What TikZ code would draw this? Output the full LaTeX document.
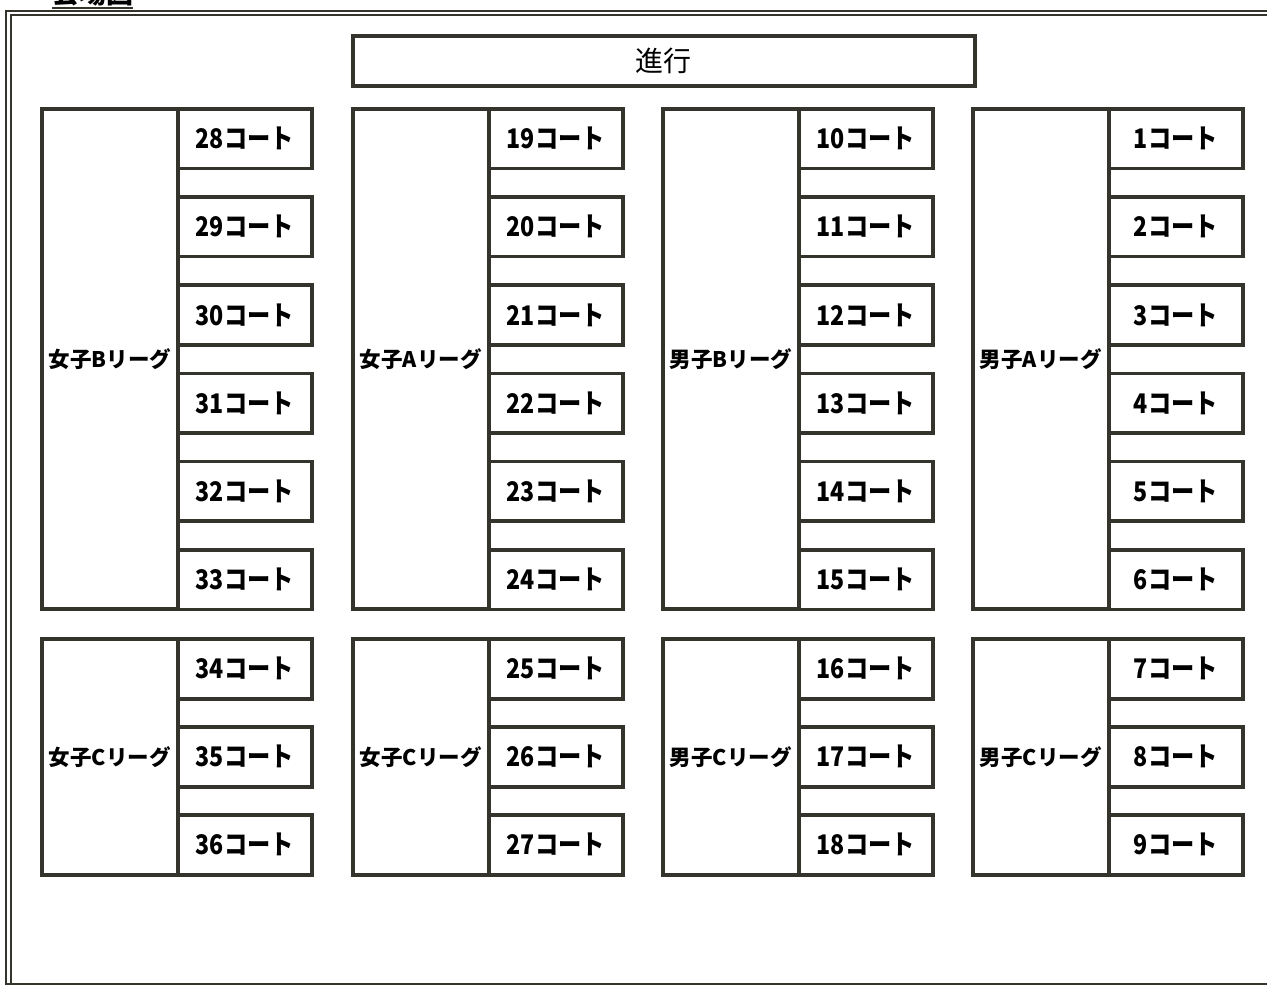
\documentclass[tikz,border=0pt]{standalone}
\usepackage{fontspec}
\setmainfont{Noto Sans CJK JP}
\newfontfamily\jpcourt[FakeStretch=0.86]{Noto Sans CJK JP}
\definecolor{ink}{RGB}{52,52,44}
\begin{document}
\begin{tikzpicture}[x=1pt,y=-1pt,
  box/.style={draw=ink, line width=3.6pt, rectangle, inner sep=0pt, anchor=north west, fill=white, text=black},
  court/.style={box, minimum width=134pt, minimum height=59.5pt, font=\jpcourt\bfseries\fontsize{27}{27}\selectfont},
  league/.style={box, minimum width=136pt, font=\bfseries\fontsize{21.5}{21.5}\selectfont},
  frameline/.style={draw=ink, line width=2pt}]
\useasboundingbox (0,0) rectangle (1267,985);
\clip (0,0) rectangle (1267,985);
\fill[white] (0,0) rectangle (1267,985);
% outer double frame
\draw[frameline] (6,10.5) rectangle (1300,984);
\draw[frameline] (10.5,14.5) rectangle (1295,1000);
% title
\node[anchor=base west, inner sep=0pt, font=\bfseries\fontsize{27}{27}\selectfont] (title) at (52,4) {会場図};
\draw[frameline] ([yshift=-1pt]title.south west) -- ([yshift=-1pt]title.south east);
% progress box
\node[box, minimum width=622pt, minimum height=50pt, font=\fontsize{28}{28}\selectfont] (prog) at (351,34) {進行};
% groups
\foreach \gx/\first/\lab/\bfirst/\blab [count=\g] in
  {40/28/女子Bリーグ/34/女子Cリーグ,
   351/19/女子Aリーグ/25/女子Cリーグ,
   661/10/男子Bリーグ/16/男子Cリーグ,
   971/1/男子Aリーグ/7/男子Cリーグ}{
  \node[league, minimum height=500pt] (top\g) at (\gx,107) {\lab};
  \foreach \i in {0,...,5}{
    \pgfmathtruncatemacro\n{\first+\i}
    \node[court] (c\n) at (\gx+136,107+88.2*\i) {\n コート};
  }
  \node[league, minimum height=236pt] (bot\g) at (\gx,637) {\blab};
  \foreach \i in {0,...,2}{
    \pgfmathtruncatemacro\n{\bfirst+\i}
    \node[court, minimum height=60pt] (c\n) at (\gx+136,637+88*\i) {\n コート};
  }
}
\end{tikzpicture}
\end{document}
